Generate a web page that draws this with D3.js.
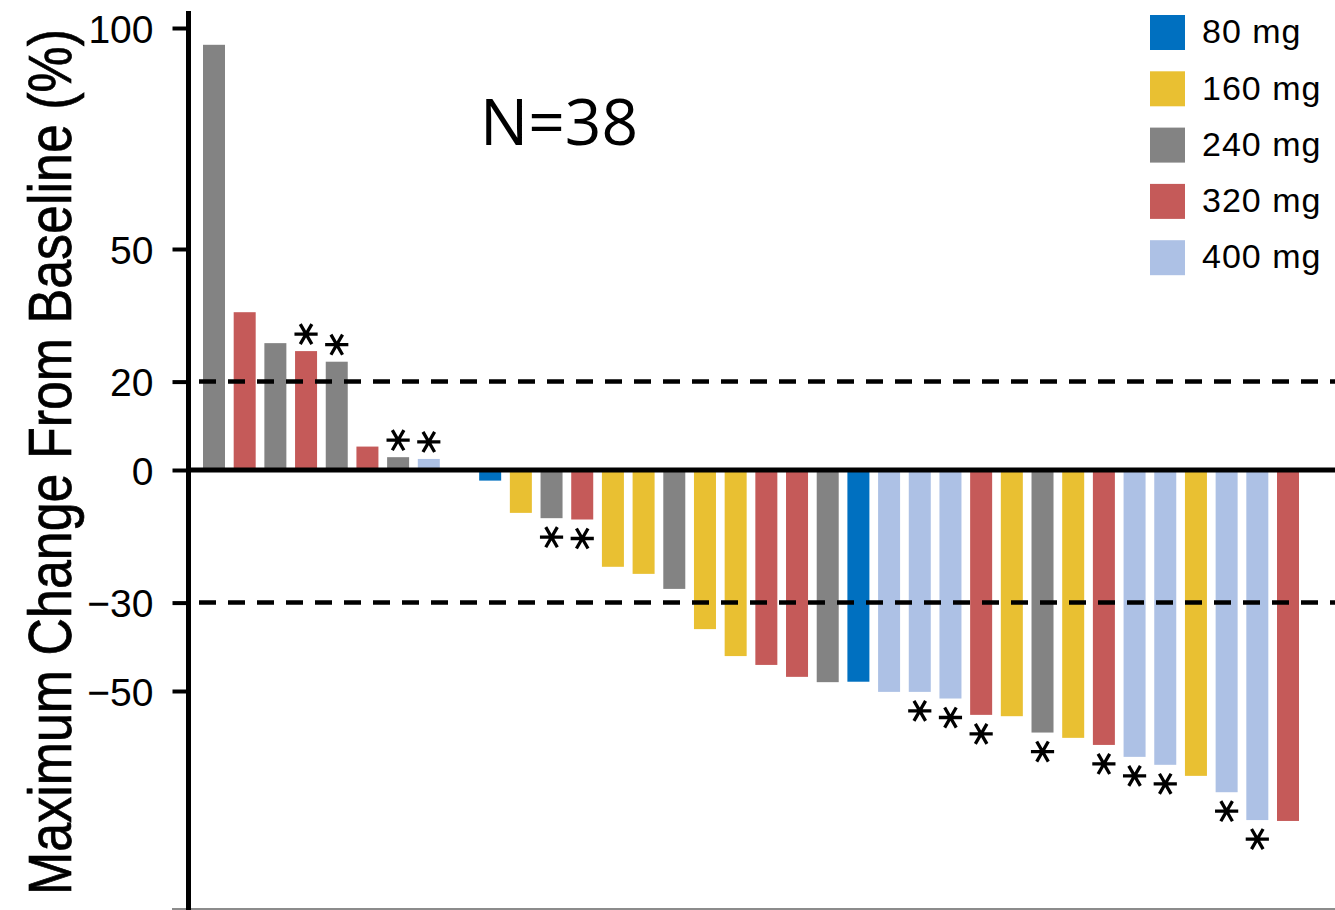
<!DOCTYPE html>
<html>
<head>
<meta charset="utf-8">
<script src="https://cdn.jsdelivr.net/npm/d3@7"></script>
<style>
  html, body { margin: 0; padding: 0; background: #fff; }
  svg { display: block; }
</style>
</head>
<body>
<svg id="chart" width="1335" height="910"></svg>
<script>
// Waterfall of best percentage change from baseline, one bar per patient
const patients = d3.range(1, 37).map(i => "P" + i);
const doses = [
  "240 mg", "320 mg", "240 mg", "320 mg", "240 mg", "320 mg", "240 mg", "400 mg",
  null,
  "80 mg", "160 mg", "240 mg", "320 mg", "160 mg", "160 mg", "240 mg", "160 mg",
  "160 mg", "320 mg", "320 mg", "240 mg", "80 mg", "400 mg", "400 mg", "400 mg",
  "320 mg", "160 mg", "240 mg", "160 mg", "320 mg", "400 mg", "400 mg", "160 mg",
  "400 mg", "400 mg", "320 mg"
];
const changes = [
  96.2, 35.7, 28.7, 26.9, 24.5, 5.3, 2.9, 2.5,
  0,
  -2.4, -9.7, -10.9, -11.2, -21.9, -23.5, -26.9, -36.0,
  -42.1, -44.1, -46.8, -48.0, -47.9, -50.2, -50.2, -51.7,
  -55.4, -55.7, -59.4, -60.6, -62.2, -64.9, -66.7, -69.2,
  -72.9, -79.2, -79.4
];
const flagged = [
  false, false, false, true, true, false, true, true,
  false,
  false, false, true, true, false, false, false, false,
  false, false, false, false, false, false, true, true,
  true, false, true, false, true, true, true, false,
  true, true, false
];
const doseLevels = ["80 mg", "160 mg", "240 mg", "320 mg", "400 mg"];
const doseColors = ["#0070c0", "#e9c032", "#838383", "#c55a59", "#adc1e5"];
const yTicks = [100, 50, 20, 0, -30, -50];
const thresholds = [20, -30];

const rows = patients.map((p, i) => ({ id: p, dose: doses[i], value: changes[i], star: flagged[i] }));

const svg = d3.select("#chart");

const y = d3.scaleLinear().domain([-100, 100]).range([912, 28]);
const step = (1288 - 214) / 35;
const x = d3.scaleBand()
  .domain(patients)
  .range([214 - step / 2, 1288 + step / 2])
  .paddingInner(0.283)
  .paddingOuter(0.1415);
const color = d3.scaleOrdinal().domain(doseLevels).range(doseColors);

const axisX = 188.5;

// bars
svg.append("g")
  .selectAll("rect")
  .data(rows.filter(d => d.dose && d.value !== 0))
  .join("rect")
  .attr("x", d => x(d.id))
  .attr("width", x.bandwidth())
  .attr("y", d => y(Math.max(0, d.value)))
  .attr("height", d => Math.abs(y(d.value) - y(0)))
  .attr("fill", d => color(d.dose));

// response thresholds
svg.append("g")
  .selectAll("line")
  .data(thresholds)
  .join("line")
  .attr("x1", 199)
  .attr("x2", 1335)
  .attr("y1", d => y(d))
  .attr("y2", d => y(d))
  .attr("stroke", "#000")
  .attr("stroke-width", 4.5)
  .attr("stroke-dasharray", "17,12");

// zero line
svg.append("line")
  .attr("x1", axisX)
  .attr("x2", 1335)
  .attr("y1", y(0))
  .attr("y2", y(0))
  .attr("stroke", "#000")
  .attr("stroke-width", 5);

// lower frame edge
svg.append("line")
  .attr("x1", 172)
  .attr("x2", 1335)
  .attr("y1", 909)
  .attr("y2", 909)
  .attr("stroke", "#666")
  .attr("stroke-width", 1.5);

// asterisks marking flagged patients
const star = d3.symbol().type(d3.symbolAsterisk).size(380);
svg.append("g")
  .selectAll("path")
  .data(rows.filter(d => d.star))
  .join("path")
  .attr("d", star)
  .attr("transform", d => {
    const cx = x(d.id) + x.bandwidth() / 2;
    const cy = d.value >= 0 ? y(d.value) - 17 : y(d.value) + 19;
    return `translate(${cx},${cy}) rotate(90)`;
  })
  .attr("fill", "none")
  .attr("stroke", "#000")
  .attr("stroke-width", 3.3);

// y axis
const yAxis = d3.axisLeft(y).tickValues(yTicks).tickSize(16).tickPadding(19).tickFormat(d3.format("d"));
const gy = svg.append("g")
  .attr("transform", `translate(${axisX},0)`)
  .call(yAxis);
gy.select(".domain").remove();
gy.append("line")
  .attr("x1", 0).attr("x2", 0)
  .attr("y1", 11).attr("y2", 910)
  .attr("stroke", "#000")
  .attr("stroke-width", 5);
gy.selectAll(".tick line").attr("stroke", "#000").attr("stroke-width", 4);
gy.selectAll(".tick text")
  .attr("fill", "#000")
  .attr("font-family", "'Liberation Sans', Arial, sans-serif")
  .attr("font-size", 39)
  .attr("dy", "0.36em");

// y axis title: narrow, tall lettering
svg.append("text")
  .attr("transform", "translate(71,462) rotate(-90) scale(1,1.18)")
  .attr("text-anchor", "middle")
  .attr("font-family", "'Liberation Sans Narrow', 'Liberation Sans', Arial, sans-serif")
  .attr("font-size", 52)
  .attr("textLength", 866)
  .attr("lengthAdjust", "spacingAndGlyphs")
  .attr("fill", "#000")
  .attr("stroke", "#000")
  .attr("stroke-width", 0.6)
  .text("Maximum Change From Baseline (%)");

// sample size
svg.append("text")
  .attr("x", 480)
  .attr("y", 145)
  .attr("font-family", "'Open Sans', 'Noto Sans', sans-serif")
  .attr("font-size", 64)
  .attr("fill", "#000")
  .text("N=38");

// legend
const legend = svg.append("g")
  .selectAll("g")
  .data(doseLevels)
  .join("g")
  .attr("transform", (d, i) => `translate(1150,${15 + i * 56.3})`);
legend.append("rect")
  .attr("width", 35)
  .attr("height", 35)
  .attr("fill", d => color(d));
legend.append("text")
  .attr("x", 52)
  .attr("y", 16)
  .attr("dy", "0.36em")
  .attr("font-family", "'Liberation Sans', Arial, sans-serif")
  .attr("font-size", 34)
  .attr("letter-spacing", 1)
  .attr("fill", "#000")
  .text(d => d);
</script>
</body>
</html>
